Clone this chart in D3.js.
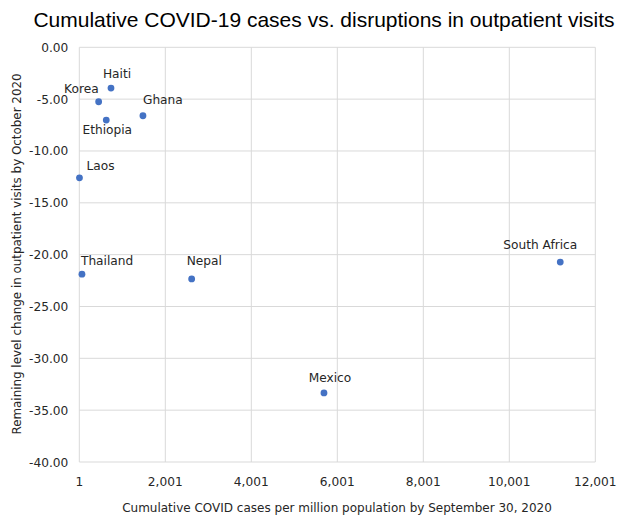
<!DOCTYPE html>
<html><head><meta charset="utf-8">
<script src="https://cdn.jsdelivr.net/npm/d3@7"></script>
<style>body{margin:0;background:#fff}svg{display:block}text{font-family:"DejaVu Sans",Verdana,sans-serif;fill:#262626}</style>
</head><body>
<script>
const countries = ["Haiti","Korea","Ethiopia","Ghana","Laos","Thailand","Nepal","South Africa","Mexico"];
const casesPerMillion = [738, 451, 628, 1481, 5, 63, 2614, 11186, 5691];
const levelChange = [-3.93, -5.25, -7.02, -6.60, -12.59, -21.88, -22.34, -20.72, -33.34];
const xTicks = [1, 2001, 4001, 6001, 8001, 10001, 12001];
const yTicks = [0, -5, -10, -15, -20, -25, -30, -35, -40];
const title = "Cumulative COVID-19 cases vs. disruptions in outpatient visits";
const xLabel = "Cumulative COVID cases per million population by September 30, 2020";
const yLabel = "Remaining level change in outpatient visits by October 2020";

// label placement (style only): anchor, dx, dy relative to point
const labelPos = {
  "Haiti":["middle",6,-10],"Korea":["end",0,-9],"Ethiopia":["middle",1,14],
  "Ghana":["start",0,-12],"Laos":["start",7,-8],"Thailand":["start",-1,-9],
  "Nepal":["start",-5,-14],"South Africa":["middle",-20,-13],"Mexico":["middle",6,-11]
};

const W=617,H=515, m={l:79.3,r:21.7,t:47.3,b:53};
const svg=d3.select("body").append("svg").attr("width",W).attr("height",H);
const x=d3.scaleLinear().domain([1,12001]).range([m.l,W-m.r]);
const y=d3.scaleLinear().domain([-40,0]).range([H-m.b,m.t]);

svg.append("g").selectAll("line").data(xTicks).join("line")
  .attr("x1",d=>x(d)).attr("x2",d=>x(d)).attr("y1",y(0)).attr("y2",y(-40))
  .attr("stroke","#d9d9d9").attr("stroke-width",1);
svg.append("g").selectAll("line").data(yTicks).join("line")
  .attr("x1",x(1)).attr("x2",x(12001)).attr("y1",d=>y(d)).attr("y2",d=>y(d))
  .attr("stroke","#d9d9d9").attr("stroke-width",1);

svg.append("g").selectAll("text").data(yTicks).join("text")
  .attr("x",x(1)-11).attr("y",d=>y(d)+4.5).attr("text-anchor","end")
  .attr("font-size",12.2).text(d=>d3.format(".2f")(d).replace("−","-"));
svg.append("g").selectAll("text").data(xTicks).join("text")
  .attr("x",d=>x(d)).attr("y",y(-40)+24).attr("text-anchor","middle")
  .attr("font-size",12.2).text(d=>d3.format(",")(d));

svg.append("g").selectAll("circle").data(countries).join("circle")
  .attr("cx",(d,i)=>x(casesPerMillion[i])).attr("cy",(d,i)=>y(levelChange[i]))
  .attr("r",3.4).attr("fill","#4472c4");
svg.append("g").selectAll("text").data(countries).join("text")
  .attr("x",(d,i)=>x(casesPerMillion[i])+labelPos[d][1])
  .attr("y",(d,i)=>y(levelChange[i])+labelPos[d][2])
  .attr("text-anchor",d=>labelPos[d][0]).attr("font-size",12.2).text(d=>d);

svg.append("text").attr("x",324).attr("y",27).attr("text-anchor","middle")
  .style("font-family","'Liberation Sans',Arial,sans-serif").style("fill","#000")
  .attr("font-size",21).text(title);
svg.append("text").attr("x",337).attr("y",512).attr("text-anchor","middle")
  .attr("font-size",12).text(xLabel);
svg.append("text").attr("transform","translate(21,254) rotate(-90)").attr("text-anchor","middle")
  .attr("font-size",11.9).text(yLabel);
</script>
</body></html>
